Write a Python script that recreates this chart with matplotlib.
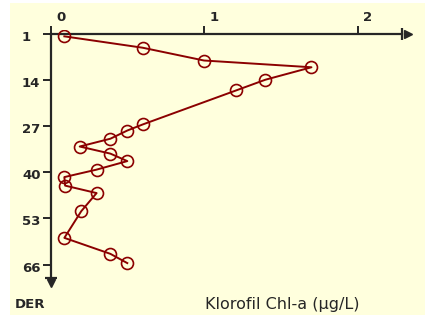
import matplotlib
matplotlib.use("Agg")
import matplotlib.pyplot as plt
from matplotlib.patches import Rectangle
from matplotlib.transforms import ScaledTranslation, blended_transform_factory

# Chlorophyll-a profile: value (µg/L) against depth
depth = [1.8, 5.0, 8.6, 10.5, 14.0, 17.0, 26.6, 28.3, 30.6, 32.8,
         34.8, 36.9, 39.3, 41.4, 43.8, 45.9, 51.0, 58.5, 63.0, 65.6]
chl = [0.09, 0.60, 1.00, 1.70, 1.40, 1.21, 0.60, 0.50, 0.39, 0.19,
       0.39, 0.50, 0.30, 0.09, 0.095, 0.30, 0.20, 0.09, 0.39, 0.50]

depth_ticks = [1, 14, 27, 40, 53, 66]
chl_ticks = [0, 1, 2]

W, H, DPI = 425, 320, 100
fig = plt.figure(figsize=(W / DPI, H / DPI), dpi=DPI, facecolor="white")
fig.patches.append(Rectangle((10 / W, 5 / H), 415 / W, 312 / H,
                             transform=fig.transFigure, facecolor="#FFFFDD",
                             edgecolor="none", zorder=-5))

ax = fig.add_axes([20 / W, 30 / H, 400 / W, 260 / H])
ax.set_facecolor("none")
ax.set_xlim(-0.199, 2.407)
ax.set_ylim(73.17, 0.015)

ink = "#262626"
red = "#8B0000"

ax.plot(chl, depth, color=red, lw=1.4, marker="o", ms=8.6,
        mfc="none", mec=red, mew=1.2, zorder=3)

for side in ("right", "bottom"):
    ax.spines[side].set_visible(False)
ax.spines["left"].set_position(("data", 0))
ax.spines["top"].set_position(("data", 1))
ax.spines["left"].set_bounds(1, 69.8)
ax.spines["top"].set_bounds(0, 2.29)
for side in ("left", "top"):
    ax.spines[side].set_linewidth(1.6)
    ax.spines[side].set_color(ink)

ax.xaxis.tick_top()
ax.yaxis.tick_left()
ax.set_xticks(chl_ticks)
ax.set_xticklabels([str(t) for t in chl_ticks])
ax.set_yticks(depth_ticks)
ax.set_yticklabels([])
ax.tick_params(axis="both", direction="out", length=6, width=1.4,
               color=ink, labelcolor=ink, labelsize=9.5)
ax.tick_params(axis="x", pad=1.0)
for lab in ax.get_xticklabels():
    lab.set_fontweight("bold")
    lab.set_transform(lab.get_transform() + ScaledTranslation(10.5 / DPI, 0, fig.dpi_scale_trans))

# depth labels, left-aligned in a column beside the axis
ylab_tr = blended_transform_factory(fig.transFigure, ax.transData) + \
    ScaledTranslation(0, -3.5 / DPI, fig.dpi_scale_trans)
for d in depth_ticks:
    ax.text(22 / W, d, str(d), transform=ylab_tr, ha="left", va="center",
            fontsize=9.5, fontweight="bold", color=ink)

# arrow heads at the axis ends
ax.plot([2.29], [1], marker="|", ms=8, mew=1.6, color=ink, clip_on=False)
ax.plot([2.33], [1], marker=">", ms=6, mfc=ink, mec=ink, clip_on=False)
ax.plot([0], [69.8], marker="_", ms=8, mew=1.6, color=ink, clip_on=False)
ax.plot([0], [71.2], marker="v", ms=6, mfc=ink, mec=ink, clip_on=False)

fig.text(15 / W, 1 - 304 / H, "DER", ha="left", va="center",
         fontsize=9.5, fontweight="bold", color=ink)
fig.text(205 / W, 1 - 304 / H, "Klorofil Chl-a (µg/L)", ha="left", va="center",
         fontsize=11.5, color=ink)

fig.savefig("out.png", dpi=DPI, facecolor="white")
